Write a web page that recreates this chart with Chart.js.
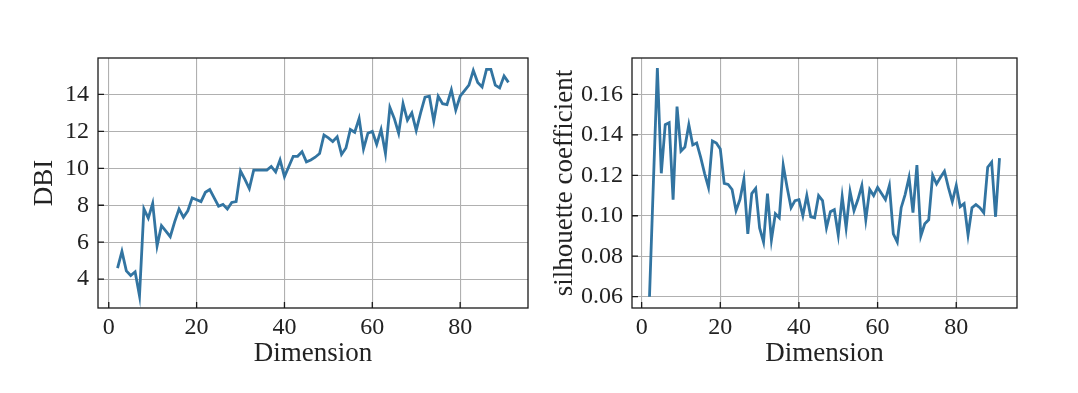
<!DOCTYPE html>
<html>
<head>
<meta charset="utf-8">
<script src="https://cdn.jsdelivr.net/npm/chart.js@4.4.1/dist/chart.umd.min.js"></script>
<style>
  body { margin: 0; background: #fff; }
  .wrap { position: relative; width: 1078px; height: 393px; }
  canvas { position: absolute; top: 0; }
  #dbiChart { left: 0; }
  #silChart { left: 539px; }
</style>
</head>
<body>
<div class="wrap">
  <canvas id="dbiChart" width="539" height="393"></canvas>
  <canvas id="silChart" width="539" height="393"></canvas>
</div>
<script>
/* ===============================
   DATA
================================ */

const dims = [
  2, 3, 4, 5, 6, 7, 8, 9, 10, 11, 12, 13, 14, 15, 16, 17, 18, 19, 20, 21,
  22, 23, 24, 25, 26, 27, 28, 29, 30, 31, 32, 33, 34, 35, 36, 37, 38, 39, 40, 41,
  42, 43, 44, 45, 46, 47, 48, 49, 50, 51, 52, 53, 54, 55, 56, 57, 58, 59, 60, 61,
  62, 63, 64, 65, 66, 67, 68, 69, 70, 71, 72, 73, 74, 75, 76, 77, 78, 79, 80, 81,
  82, 83, 84, 85, 86, 87, 88, 89, 90, 91
];

const dbi = [
  4.6, 5.5, 4.45, 4.2, 4.4, 3.1, 7.8, 7.3, 8.1, 5.8, 6.9, 6.6, 6.3, 7.1, 7.8, 7.35, 7.7, 8.4, 8.3, 8.2,
  8.7, 8.85, 8.4, 7.95, 8.05, 7.8, 8.15, 8.2, 9.85, 9.4, 8.9, 9.9, 9.9, 9.9, 9.9, 10.1, 9.8, 10.45, 9.55, 10.1,
  10.65, 10.65, 10.9, 10.35, 10.45, 10.6, 10.8, 11.8, 11.65, 11.45, 11.7, 10.75, 11.1, 12.1, 11.95, 12.7, 11.05, 11.9, 12.0, 11.3,
  12.1, 10.8, 13.3, 12.7, 11.9, 13.5, 12.6, 13.0, 12.05, 13.0, 13.85, 13.9, 12.55, 13.9, 13.5, 13.45, 14.25, 13.15, 13.9, 14.2,
  14.5, 15.3, 14.65, 14.4, 15.35, 15.35, 14.5, 14.35, 15.0, 14.65
];

const silhouette = [
  0.060, 0.117, 0.173, 0.121, 0.145, 0.146, 0.108, 0.154, 0.132, 0.134, 0.145, 0.135, 0.136, 0.129, 0.121, 0.114, 0.137, 0.136, 0.133, 0.116,
  0.1155, 0.113, 0.1025, 0.108, 0.118, 0.091, 0.111, 0.1135, 0.094, 0.087, 0.111, 0.088, 0.101, 0.099, 0.125, 0.114, 0.104, 0.1075, 0.108, 0.100,
  0.110, 0.0995, 0.099, 0.110, 0.1075, 0.094, 0.102, 0.103, 0.0905, 0.1095, 0.094, 0.112, 0.1025, 0.108, 0.115, 0.098, 0.113, 0.110, 0.114, 0.111,
  0.108, 0.115, 0.091, 0.087, 0.104, 0.1105, 0.119, 0.1016, 0.125, 0.090, 0.096, 0.098, 0.120, 0.1157, 0.119, 0.122, 0.114, 0.107, 0.115, 0.1045,
  0.106, 0.0905, 0.104, 0.1055, 0.104, 0.1015, 0.124, 0.1265, 0.0995, 0.1285
];

const xTicks = [0, 20, 40, 60, 80];
const dbiTicks = [4, 6, 8, 10, 12, 14];
const silTicks = [0.06, 0.08, 0.10, 0.12, 0.14, 0.16];

/* ===============================
   STYLE
================================ */

const LINE_COLOR = "#3274a1";
const GRID_COLOR = "#b0b0b0";
const FRAME_COLOR = "#1a1a1a";
const FONT = "'Liberation Serif', 'DejaVu Serif', serif";
const TICK_SIZE = 24;
const TITLE_SIZE = 27;

// matplotlib style frame + inward tick marks
const framePlugin = {
  id: "frame",
  afterDraw(chart) {
    const { ctx, chartArea: a, scales } = chart;
    ctx.save();
    ctx.strokeStyle = FRAME_COLOR;
    ctx.lineWidth = 1.3;
    ctx.beginPath();
    scales.x.ticks.forEach(t => {
      const px = scales.x.getPixelForValue(t.value);
      ctx.moveTo(px, a.bottom);
      ctx.lineTo(px, a.bottom - 6);
    });
    scales.y.ticks.forEach(t => {
      const py = scales.y.getPixelForValue(t.value);
      ctx.moveTo(a.left, py);
      ctx.lineTo(a.left + 6, py);
    });
    ctx.stroke();
    ctx.strokeRect(a.left, a.top, a.right - a.left, a.bottom - a.top);
    ctx.restore();
  }
};

function makeChart(id, values, opts) {
  const ctx = document.getElementById(id);

  return new Chart(ctx, {
    type: "line",
    data: {
      datasets: [{
        data: dims.map((d, i) => ({ x: d, y: values[i] })),
        borderColor: LINE_COLOR,
        borderWidth: 2.8,
        pointRadius: 0,
        tension: 0,
        fill: false
      }]
    },
    options: {
      responsive: false,
      animation: false,
      devicePixelRatio: 1,
      layout: { padding: opts.padding },
      plugins: {
        legend: { display: false },
        tooltip: { enabled: false }
      },
      scales: {
        x: {
          type: "linear",
          min: -2.45,
          max: 95.45,
          afterBuildTicks: s => { s.ticks = xTicks.map(v => ({ value: v })); },
          afterFit: s => { s.height = opts.xHeight; },
          grid: { color: GRID_COLOR, lineWidth: 1.1, drawTicks: false },
          border: { display: false },
          ticks: {
            color: "#222",
            padding: 5,
            maxRotation: 0,
            font: { family: FONT, size: TICK_SIZE },
            callback: v => String(v)
          },
          title: {
            display: true,
            text: "Dimension",
            color: "#222",
            font: { family: FONT, size: TITLE_SIZE }
          }
        },
        y: {
          min: opts.yMin,
          max: opts.yMax,
          afterBuildTicks: s => { s.ticks = opts.yTicks.map(v => ({ value: v })); },
          afterFit: s => { s.width = opts.yWidth; },
          grid: { color: GRID_COLOR, lineWidth: 1.1, drawTicks: false },
          border: { display: false },
          ticks: {
            color: "#222",
            padding: 9,
            font: { family: FONT, size: TICK_SIZE },
            callback: opts.fmt
          },
          title: {
            display: true,
            text: opts.yTitle,
            color: "#222",
            font: { family: FONT, size: TITLE_SIZE }
          }
        }
      }
    },
    plugins: [framePlugin]
  });
}

/* ===============================
   CHARTS
================================ */

makeChart("dbiChart", dbi, {
  padding: { left: 25, top: 58, right: 11, bottom: 19 },
  yWidth: 73,
  xHeight: 66,
  yMin: 2.44,
  yMax: 15.97,
  yTicks: dbiTicks,
  yTitle: "DBI",
  fmt: v => String(v)
});

makeChart("silChart", silhouette, {
  padding: { left: 6, top: 58, right: 61, bottom: 19 },
  yWidth: 87,
  xHeight: 66,
  yMin: 0.0544,
  yMax: 0.178,
  yTicks: silTicks,
  yTitle: "silhouette coefficient",
  fmt: v => v.toFixed(2)
});
</script>
</body>
</html>
